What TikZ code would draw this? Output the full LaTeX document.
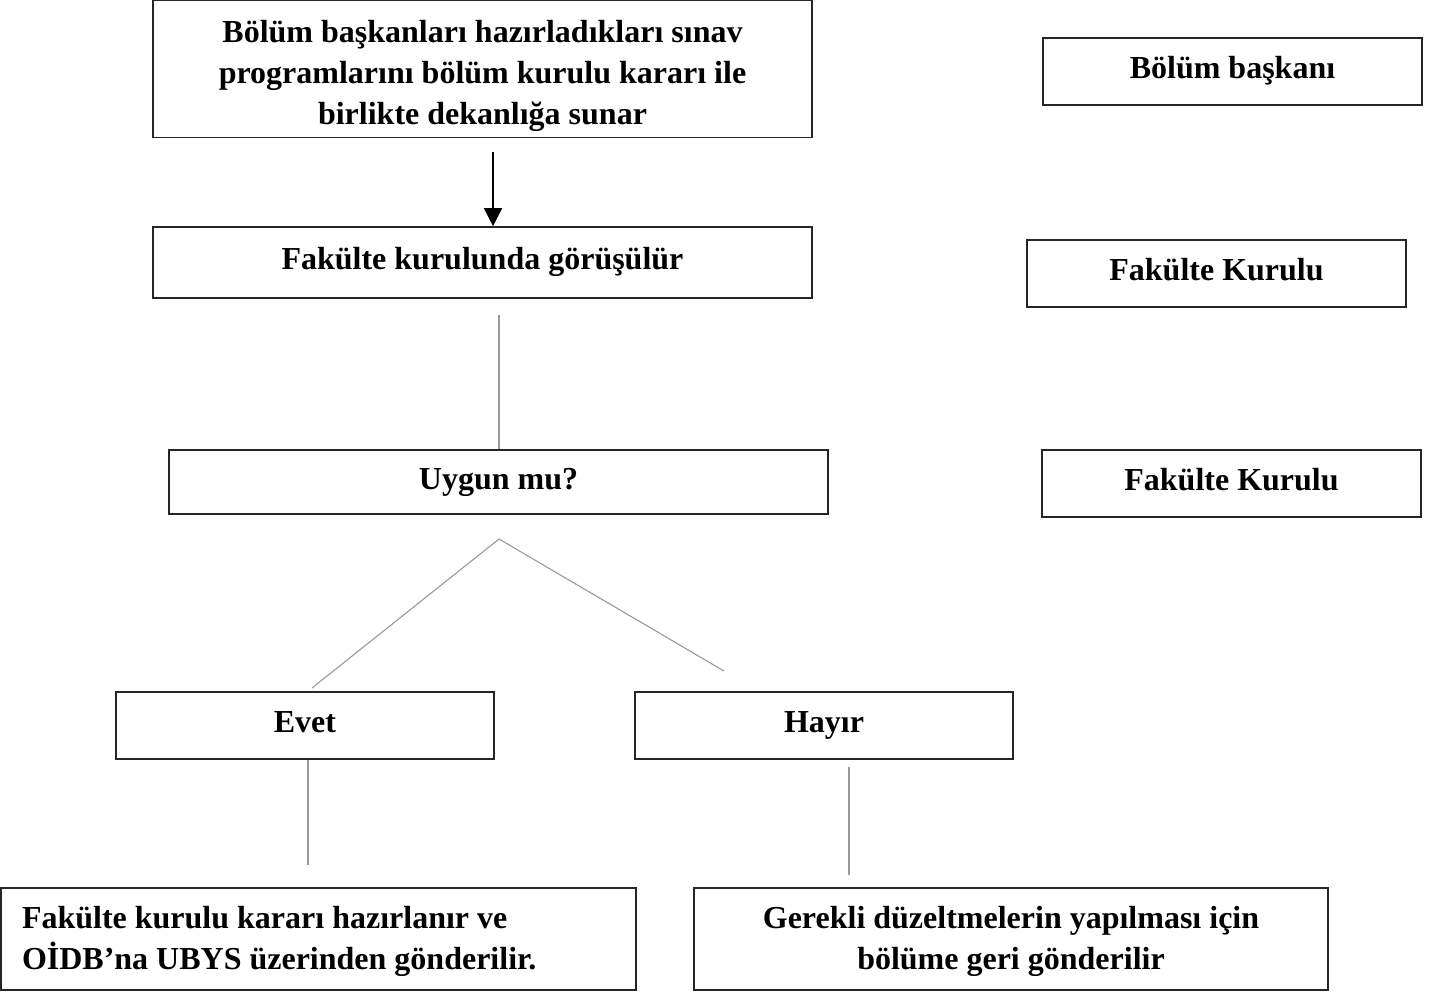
\documentclass[tikz,border=0pt]{standalone}
\usepackage{fontspec}
\setmainfont{Liberation Serif}
\usetikzlibrary{arrows.meta}
\newcommand{\topstrut}[1]{\rule{0pt}{#1}}
\begin{document}
\begin{tikzpicture}[x=1pt,y=-1pt,
  box/.style={draw=black!85,line width=1.6pt,rectangle,inner sep=0pt,
    font=\fontsize{32}{41}\selectfont\bfseries,align=center},
  single/.style={box,text height=22pt,text depth=8pt},
  thin/.style={draw=black!40,line width=1.1pt},
  arr/.style={draw=black,line width=1.6pt,-{Triangle[length=18pt,width=18pt]}}]
\useasboundingbox (0,0) rectangle (1449,992);
\node[box,minimum width=659pt,minimum height=137pt] (b1) at (482.5,69)
  {\topstrut{36pt}Bölüm başkanları hazırladıkları sınav\\programlarını bölüm kurulu kararı ile\\birlikte dekanlığa sunar};
\node[single,minimum width=379pt,minimum height=67pt] (r1) at (1232.5,71.5) {Bölüm başkanı};
\node[single,minimum width=659pt,minimum height=71pt] (b2) at (482.5,262.5) {Fakülte kurulunda görüşülür};
\node[single,minimum width=379pt,minimum height=67pt] (r2) at (1216.5,273.5) {Fakülte Kurulu};
\node[single,minimum width=659pt,minimum height=64pt] (b3) at (498.5,482) {Uygun mu?};
\node[single,minimum width=379pt,minimum height=67pt] (r3) at (1231.5,483.5) {Fakülte Kurulu};
\node[single,minimum width=378pt,minimum height=67pt] (evet) at (305,725.5) {Evet};
\node[single,minimum width=378pt,minimum height=67pt] (hayir) at (824,725.5) {Hayır};
\node[box,minimum height=102pt,align=flush left,text width=593pt,inner xsep=21pt] (b4) at (318.5,939)
  {\topstrut{28pt}Fakülte kurulu kararı hazırlanır ve\\OİDB’na UBYS üzerinden gönderilir.};
\node[box,minimum width=634pt,minimum height=102pt] (b5) at (1011,939)
  {\topstrut{28pt}Gerekli düzeltmelerin yapılması için\\bölüme geri gönderilir};
\coordinate (a1) at (493,152);
\coordinate (c1) at (499,315);
\coordinate (c2) at (499,539);
\coordinate (c3) at (312,688);
\coordinate (c4) at (724,671);
\coordinate (c5) at (308,865);
\coordinate (c6) at (849,767);
\coordinate (c7) at (849,875);
\draw[arr] (a1) -- (a1 |- b2.north);
\draw[thin] (c1) -- (c1 |- b3.north);
\draw[thin] (c3) -- (c2) -- (c4);
\draw[thin] (c5 |- evet.south) -- (c5);
\draw[thin] (c6) -- (c7);
\end{tikzpicture}
\end{document}
